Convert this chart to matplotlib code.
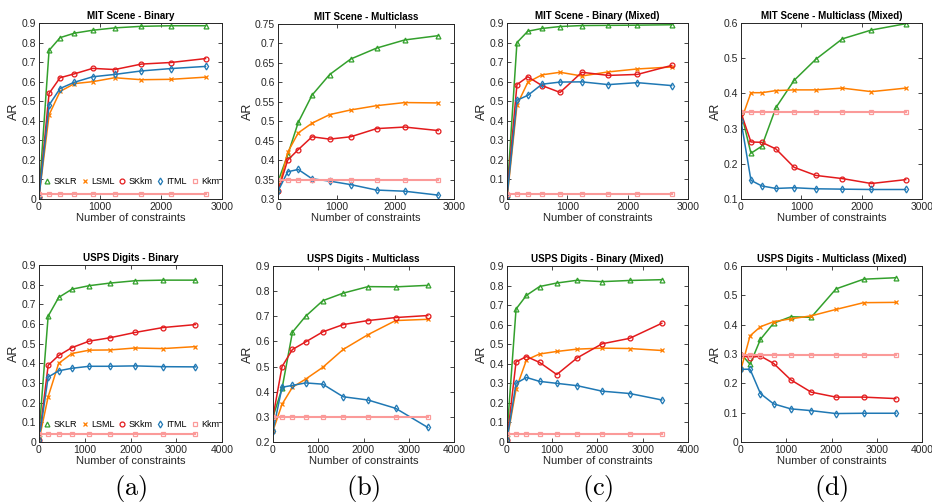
import matplotlib
matplotlib.use("Agg")
import matplotlib.pyplot as plt
from matplotlib.lines import Line2D
import numpy as np

plt.rcParams['font.family'] = ['Liberation Sans', 'DejaVu Sans']
plt.rcParams['mathtext.fontset'] = 'cm'

# number of constraints
x_mit = [0, 165, 345, 580, 880, 1240, 1680, 2160, 2730]
x_usps = [0, 200, 430, 720, 1100, 1550, 2100, 2710, 3420]

methods = ["SKLR", "LSML", "SKkm", "ITML", "Kkm"]
colors = ["#33a02c", "#ff7f00", "#e31a1c", "#1f78b4", "#fb9a99"]
markers = ["^", "x", "o", "d", "s"]

titles = ["MIT Scene - Binary", "MIT Scene - Multiclass",
          "MIT Scene - Binary (Mixed)", "MIT Scene - Multiclass (Mixed)",
          "USPS Digits - Binary", "USPS Digits - Multiclass",
          "USPS Digits - Binary (Mixed)", "USPS Digits - Multiclass (Mixed)"]

# AR values per panel, rows: SKLR, LSML, SKkm, ITML, Kkm
mit_bin = [
    [0.02, 0.76, 0.825, 0.848, 0.863, 0.875, 0.883, 0.886, 0.886],
    [0.01, 0.43, 0.55, 0.59, 0.60, 0.62, 0.61, 0.612, 0.623],
    [0.01, 0.54, 0.62, 0.64, 0.668, 0.662, 0.69, 0.698, 0.718],
    [0.01, 0.48, 0.565, 0.597, 0.625, 0.637, 0.655, 0.667, 0.678],
    [0.025] * 9,
]
mit_multi = [
    [0.345, 0.413, 0.497, 0.567, 0.62, 0.66, 0.688, 0.709, 0.72],
    [0.32, 0.42, 0.47, 0.495, 0.517, 0.529, 0.54, 0.548, 0.547],
    [0.32, 0.40, 0.427, 0.46, 0.454, 0.46, 0.481, 0.485, 0.476],
    [0.32, 0.37, 0.376, 0.352, 0.346, 0.337, 0.323, 0.32, 0.31],
    [0.348] * 9,
]
mit_bin_mixed = [
    [0.02, 0.80, 0.858, 0.872, 0.882, 0.887, 0.888, 0.889, 0.891],
    [0.0, 0.48, 0.597, 0.635, 0.648, 0.629, 0.65, 0.665, 0.675],
    [0.02, 0.585, 0.625, 0.58, 0.545, 0.648, 0.632, 0.637, 0.683],
    [0.01, 0.505, 0.53, 0.587, 0.598, 0.599, 0.585, 0.595, 0.58],
    [0.025] * 9,
]
mit_multi_mixed = [
    [0.347, 0.23, 0.25, 0.36, 0.437, 0.497, 0.555, 0.58, 0.598],
    [0.322, 0.402, 0.402, 0.408, 0.41, 0.41, 0.415, 0.405, 0.415],
    [0.345, 0.262, 0.261, 0.242, 0.19, 0.167, 0.158, 0.144, 0.155],
    [0.322, 0.153, 0.137, 0.13, 0.132, 0.129, 0.128, 0.127, 0.127],
    [0.347] * 9,
]
usps_bin = [
    [0.04, 0.64, 0.735, 0.777, 0.795, 0.808, 0.82, 0.823, 0.823],
    [0.01, 0.23, 0.40, 0.45, 0.467, 0.468, 0.478, 0.475, 0.485],
    [0.01, 0.39, 0.44, 0.48, 0.513, 0.53, 0.557, 0.582, 0.597],
    [0.01, 0.33, 0.362, 0.375, 0.385, 0.385, 0.387, 0.383, 0.382],
    [0.04] * 9,
]
usps_multi = [
    [0.30, 0.413, 0.637, 0.70, 0.762, 0.792, 0.818, 0.817, 0.823],
    [0.245, 0.35, 0.418, 0.45, 0.497, 0.568, 0.627, 0.683, 0.688],
    [0.30, 0.50, 0.568, 0.598, 0.638, 0.667, 0.683, 0.695, 0.703],
    [0.245, 0.418, 0.425, 0.435, 0.43, 0.38, 0.367, 0.334, 0.258],
    [0.298] * 9,
]
usps_bin_mixed = [
    [0.04, 0.68, 0.75, 0.795, 0.813, 0.827, 0.82, 0.826, 0.83],
    [0.01, 0.27, 0.42, 0.45, 0.463, 0.475, 0.48, 0.478, 0.468],
    [0.01, 0.41, 0.437, 0.407, 0.345, 0.43, 0.502, 0.53, 0.607],
    [0.01, 0.30, 0.33, 0.31, 0.30, 0.288, 0.26, 0.248, 0.215],
    [0.04] * 9,
]
usps_multi_mixed = [
    [0.30, 0.265, 0.35, 0.405, 0.427, 0.425, 0.522, 0.555, 0.56],
    [0.248, 0.362, 0.393, 0.41, 0.42, 0.43, 0.452, 0.475, 0.476],
    [0.295, 0.288, 0.293, 0.268, 0.212, 0.17, 0.153, 0.153, 0.148],
    [0.248, 0.248, 0.165, 0.13, 0.113, 0.107, 0.097, 0.098, 0.098],
    [0.298] * 9,
]

panels = [mit_bin, mit_multi, mit_bin_mixed, mit_multi_mixed,
          usps_bin, usps_multi, usps_bin_mixed, usps_multi_mixed]
ylims = [(0, 0.9), (0.3, 0.75), (0, 0.9), (0.1, 0.6),
         (0, 0.9), (0.2, 0.9), (0, 0.9), (0, 0.6)]
ysteps = [0.1, 0.05, 0.1, 0.1, 0.1, 0.1, 0.1, 0.1]
sub_labels = ["(a)", "(b)", "(c)", "(d)"]

W, H = 932, 503
fig = plt.figure(figsize=(W / 100, H / 100), dpi=100)

# axes boxes in pixels: left, top, right, bottom
boxes = [(39, 23, 222, 199), (278, 24, 454, 199), (507, 23, 688, 199), (741, 23, 922, 199),
         (39, 265, 222, 442), (273, 266, 454, 442), (507, 266, 688, 442), (741, 266, 922, 442)]

gray = "#262626"
for i, (data, box) in enumerate(zip(panels, boxes)):
    l, t, r, b = box
    ax = fig.add_axes([l / W, 1 - b / H, (r - l) / W, (b - t) / H])
    xs = x_mit if i < 4 else x_usps
    xmax = 3000 if i < 4 else 4000
    for k in range(5):
        ax.plot(xs, data[k], color=colors[k], marker=markers[k], markersize=3.5,
                markerfacecolor="none", markeredgewidth=0.9,
                linewidth=1.5 if k == 4 else 1.1)
    ax.set_xlim(0, xmax)
    ax.set_ylim(*ylims[i])
    ax.set_xticks(np.arange(0, xmax + 1, 1000))
    ax.set_yticks(np.round(np.arange(ylims[i][0], ylims[i][1] + 1e-9, ysteps[i]), 2))
    ax.yaxis.set_major_formatter(matplotlib.ticker.FuncFormatter(lambda v, p: "%g" % v))
    ax.tick_params(direction="in", top=True, right=True, labelsize=7.5,
                   colors=gray, length=3, width=0.6, pad=2)
    for s in ax.spines.values():
        s.set_color(gray)
        s.set_linewidth(0.7)
    ax.set_title(titles[i], fontsize=7, fontweight="bold", pad=3)
    ax.set_xlabel("Number of constraints", fontsize=8, color=gray, labelpad=1)
    ax.set_ylabel("AR", fontsize=9, color=gray, labelpad=1)
    if i in (0, 4):
        handles = [Line2D([], [], linestyle="none", color=colors[k], marker=markers[k],
                          markersize=3.5, markerfacecolor="none", markeredgewidth=0.9)
                   for k in range(5)]
        ax.legend(handles, methods, loc="center left", ncol=5, frameon=False,
                  fontsize=6.5, handlelength=0.6, handletextpad=0.4, columnspacing=0.55,
                  bbox_to_anchor=(0.0, 0.1), borderaxespad=0.2)
    if i >= 4:
        fig.text((l + r) / 2 / W, 1 - 488 / H, r"$\mathrm{" + sub_labels[i - 4] + "}$",
                 ha="center", va="center", fontsize=19)

fig.savefig("out.png", dpi=100)
